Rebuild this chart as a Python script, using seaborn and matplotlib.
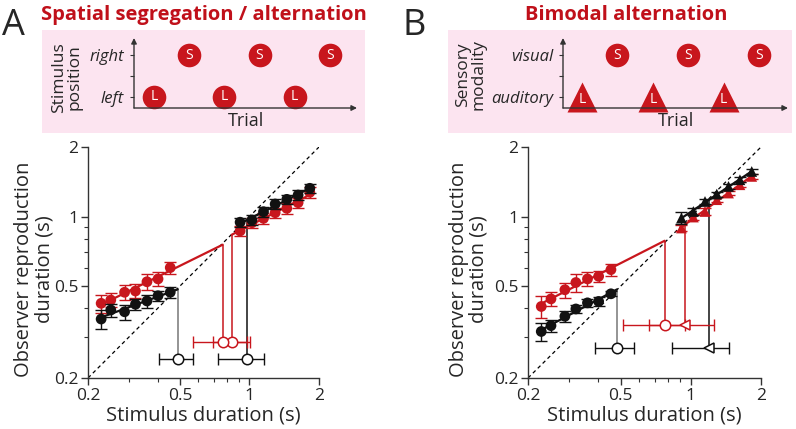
import numpy as np
import matplotlib
matplotlib.use("Agg")
import matplotlib.pyplot as plt
import seaborn as sns
from matplotlib.patches import Rectangle
from matplotlib.ticker import FixedLocator, NullFormatter, LogLocator

# ---------------- data ----------------
x_short = [0.228, 0.251, 0.288, 0.321, 0.360, 0.402, 0.454]
x_long = [0.911, 1.025, 1.150, 1.292, 1.451, 1.624, 1.825]

# Panel A: spatial segregation / alternation
a_red_short = [0.421, 0.435, 0.470, 0.476, 0.522, 0.537, 0.601]
a_red_short_err = [0.038, 0.031, 0.036, 0.033, 0.040, 0.039, 0.035]
a_blk_short = [0.360, 0.394, 0.387, 0.417, 0.431, 0.454, 0.470]
a_blk_short_err = [0.033, 0.026, 0.029, 0.024, 0.028, 0.024, 0.025]
a_red_long = [0.866, 0.940, 0.982, 1.039, 1.085, 1.148, 1.273]
a_red_long_err = [0.045, 0.045, 0.050, 0.050, 0.055, 0.060, 0.065]
a_blk_long = [0.945, 0.966, 1.049, 1.133, 1.187, 1.239, 1.325]
a_blk_long_err = [0.045, 0.045, 0.050, 0.055, 0.055, 0.060, 0.065]
# indifference points: value, lower, upper, y-position
a_pse_blk_short = [0.489, 0.406, 0.571, 0.2425]
a_pse_red_short = [0.766, 0.571, 0.979, 0.285]
a_pse_red_long = [0.838, 0.693, 1.005, 0.285]
a_pse_blk_long = [0.972, 0.733, 1.156, 0.2425]

# Panel B: bimodal alternation
b_red_short = [0.408, 0.440, 0.482, 0.518, 0.537, 0.551, 0.589]
b_red_short_err = [0.043, 0.030, 0.036, 0.047, 0.037, 0.031, 0.035]
b_blk_short = [0.318, 0.337, 0.370, 0.398, 0.423, 0.429, 0.463]
b_blk_short_err = [0.029, 0.021, 0.019, 0.017, 0.017, 0.020, 0.011]
b_red_long = [0.892, 0.995, 1.052, 1.183, 1.264, 1.373, 1.492]
b_red_long_err = [0.030, 0.030, 0.035, 0.030, 0.030, 0.035, 0.035]
b_blk_long = [0.985, 1.052, 1.162, 1.251, 1.350, 1.443, 1.567]
b_blk_long_err = [0.060, 0.040, 0.030, 0.030, 0.030, 0.035, 0.035]
b_pse_blk_short = [0.482, 0.388, 0.568, 0.271]
b_pse_red_short = [0.772, 0.509, 0.948, 0.340]
b_pse_red_long = [0.941, 0.658, 1.253, 0.340]
b_pse_blk_long = [1.193, 0.830, 1.455, 0.271]

axis_range = [0.2, 2.0]
major_ticks = [0.2, 0.5, 1, 2]
major_labels = ["0.2", "0.5", "1", "2"]

# schematic
trials = [1, 2, 3, 4, 5, 6]
trial_codes = ["L", "S", "L", "S", "L", "S"]
a_levels = ["left", "right"]
a_trial_pos = ["left", "right", "left", "right", "left", "right"]
b_levels = ["auditory", "visual"]
b_trial_mod = ["auditory", "visual", "auditory", "visual", "auditory", "visual"]

# ---------------- style ----------------
sns.set_style("ticks")
plt.rcParams["font.family"] = ["Open Sans", "DejaVu Sans"]
RED = "#C8161D"
TRED = "#C0101A"
BLK = "#111111"
GRAY = "#777777"
PINK = "#FCE4F0"
SPINE = "#333333"

W, H = 796, 429
fig = plt.figure(figsize=(W / 100, H / 100), dpi=100)


def px_axes(l, t, r, b):
    return fig.add_axes([l / W, 1 - b / H, (r - l) / W, (b - t) / H])


def fit(x, y):
    b, a = np.polyfit(np.log10(x), np.log10(y), 1)
    return lambda xx: 10 ** (a + b * np.log10(np.asarray(xx, dtype=float)))


def draw_series(ax, x, y, err, color, marker, pse, short, z):
    f = fit(x, y)
    if short:
        xs = np.array([x[0], max(x[-1], pse[0])])
    else:
        xs = np.array([min(x[0], pse[0]), x[-1]])
    ax.plot(xs, f(xs), color=color, lw=1.6, zorder=z)
    ax.errorbar(x, y, yerr=err, fmt="none", ecolor=color, elinewidth=1.0,
                capsize=4, capthick=1.0, zorder=z)
    sns.scatterplot(x=x, y=y, color=color, marker=marker, s=60,
                    edgecolor="none", ax=ax, zorder=z + 0.5, legend=False)
    return f


def draw_pse(ax, pse, f, color, vcolor, marker):
    val, lo, hi, ypos = pse
    ax.vlines(val, ypos, f(val), color=vcolor, lw=1.1, zorder=2)
    ax.errorbar([val], [ypos], xerr=[[val - lo], [hi - val]], fmt="none",
                ecolor=color, elinewidth=1.0, capsize=4, capthick=1.0, zorder=4)
    ax.plot([val], [ypos], marker=marker, ms=7.5, mfc="white", mec=color,
            mew=1.1, ls="none", zorder=5)


def style_main(ax, ylab_x):
    ax.set_xscale("log")
    ax.set_yscale("log")
    ax.set_xlim(axis_range)
    ax.set_ylim(axis_range)
    ax.plot(axis_range, axis_range, color="black", lw=0.9, ls=(0, (3, 2.5)), zorder=1)
    for axis in (ax.xaxis, ax.yaxis):
        axis.set_major_locator(FixedLocator(major_ticks))
        axis.set_minor_locator(LogLocator(base=10, subs=np.arange(2, 10)))
        axis.set_minor_formatter(NullFormatter())
    ax.set_xticklabels(major_labels)
    ax.set_yticklabels(major_labels)
    ax.tick_params(which="major", length=5, width=1, color=SPINE, labelsize=12.5, pad=2)
    ax.tick_params(which="minor", length=3, width=0.8, color=SPINE)
    sns.despine(ax=ax)
    for s in ("left", "bottom"):
        ax.spines[s].set_color(SPINE)
        ax.spines[s].set_linewidth(1.0)
    ax.set_xlabel("Stimulus duration (s)", fontsize=14.5, labelpad=1)
    ax.set_ylabel("Observer reproduction\nduration (s)", fontsize=14.5, linespacing=1.0)
    ax.yaxis.set_label_coords(ylab_x, 0.47)


# ---------------- Panel A ----------------
axA = px_axes(88, 147, 319, 378)
style_main(axA, -0.147)
f_ars = draw_series(axA, x_short, a_red_short, a_red_short_err, RED, "o", a_pse_red_short, True, 3)
f_arl = draw_series(axA, x_long, a_red_long, a_red_long_err, RED, "o", a_pse_red_long, False, 3)
f_abs = draw_series(axA, x_short, a_blk_short, a_blk_short_err, BLK, "o", a_pse_blk_short, True, 6)
f_abl = draw_series(axA, x_long, a_blk_long, a_blk_long_err, BLK, "o", a_pse_blk_long, False, 6)
draw_pse(axA, a_pse_blk_short, f_abs, BLK, GRAY, "o")
draw_pse(axA, a_pse_blk_long, f_abl, BLK, BLK, "o")
draw_pse(axA, a_pse_red_long, f_arl, RED, RED, "o")
draw_pse(axA, a_pse_red_short, f_ars, RED, RED, "o")

# ---------------- Panel B ----------------
axB = px_axes(528, 147, 761, 378)
style_main(axB, -0.168)
f_brs = draw_series(axB, x_short, b_red_short, b_red_short_err, RED, "o", b_pse_red_short, True, 3)
f_brl = draw_series(axB, x_long, b_red_long, b_red_long_err, RED, "^", b_pse_red_long, False, 3)
f_bbs = draw_series(axB, x_short, b_blk_short, b_blk_short_err, BLK, "o", b_pse_blk_short, True, 6)
f_bbl = draw_series(axB, x_long, b_blk_long, b_blk_long_err, BLK, "^", b_pse_blk_long, False, 6)
draw_pse(axB, b_pse_blk_short, f_bbs, BLK, GRAY, "o")
draw_pse(axB, b_pse_blk_long, f_bbl, BLK, BLK, "<")
draw_pse(axB, b_pse_red_short, f_brs, RED, RED, "o")
draw_pse(axB, b_pse_red_long, f_brl, RED, RED, "<")

# ---------------- schematics ----------------
fig.add_artist(Rectangle((42 / W, 1 - 133 / H), (365 - 42) / W, (133 - 30) / H,
                         transform=fig.transFigure, facecolor=PINK, edgecolor="none", zorder=0))
fig.add_artist(Rectangle((448 / W, 1 - 133 / H), (792 - 448) / W, (133 - 30) / H,
                         transform=fig.transFigure, facecolor=PINK, edgecolor="none", zorder=0))


def schematic(ax, levels, seq, shapes, xlim, ylabel):
    ax.patch.set_visible(False)
    for s in ax.spines.values():
        s.set_visible(False)
    ax.set_xlim(xlim)
    ax.set_ylim(-0.262, 1.405)
    for t, v, c in zip(trials, seq, trial_codes):
        y = levels.index(v)
        mk = shapes[c]
        ax.plot([t], [y], ls="none", marker=mk, ms=17 if mk == "o" else 21,
                color=RED, mec="none", clip_on=False)
        ax.text(t, y - (0.06 if mk == "^" else 0), c, color="white",
                ha="center", va="center", fontsize=10)
    for end in ((0, 1), (1, 0)):
        ax.annotate("", xy=end, xytext=(0, 0), xycoords="axes fraction",
                    arrowprops=dict(arrowstyle="-|>", lw=1.0, color=SPINE,
                                    mutation_scale=8, shrinkA=0, shrinkB=0))
    ax.set_xticks([])
    ax.set_yticks([0, 0.5, 1])
    ax.set_yticklabels([levels[0], "", levels[1]], fontstyle="italic", fontsize=12)
    ax.tick_params(axis="y", length=3, width=0.8, color=SPINE, pad=4)
    ax.set_xlabel("Trial", fontsize=13, labelpad=3)
    ax.set_ylabel(ylabel, fontsize=12.5, linespacing=0.95)


sA = px_axes(134, 38, 357, 108)
schematic(sA, a_levels, a_trial_pos, {"L": "o", "S": "o"}, (0.432, 6.77), "Stimulus\nposition")
sA.yaxis.set_label_coords(-0.233, 0.44)
sB = px_axes(563, 38, 788, 108)
schematic(sB, b_levels, b_trial_mod, {"L": "^", "S": "o"}, (0.463, 6.82), "Sensory\nmodality")
sB.yaxis.set_label_coords(-0.342, 0.48)

# ---------------- titles ----------------
fig.text(2 / W, 1 - 26 / H, "A", fontsize=26, va="center", ha="left")
fig.text(403 / W, 1 - 26 / H, "B", fontsize=26, va="center", ha="left")
fig.text(204 / W, 1 - 15 / H, "Spatial segregation / alternation", fontsize=14.5,
         fontweight="bold", color=TRED, ha="center", va="center")
fig.text(626 / W, 1 - 15 / H, "Bimodal alternation", fontsize=14.5,
         fontweight="bold", color=TRED, ha="center", va="center")

fig.savefig("out.png", dpi=100)
